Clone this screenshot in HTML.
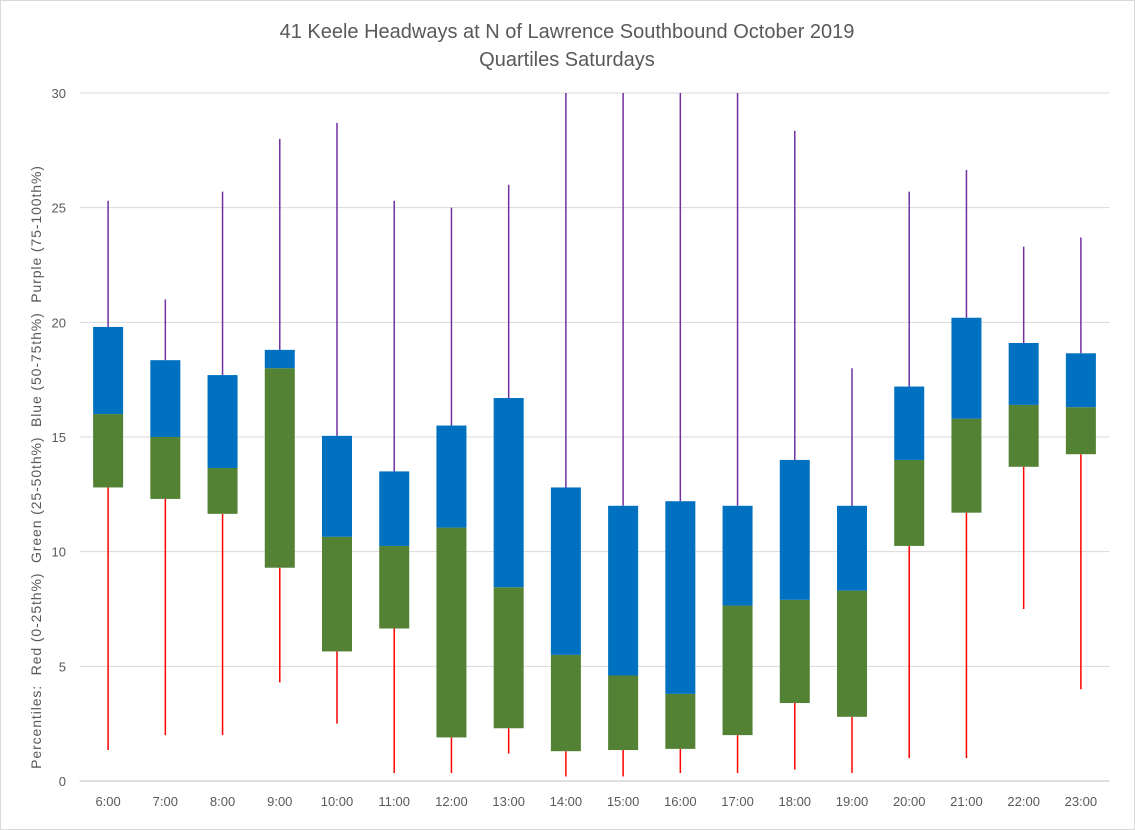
<!DOCTYPE html>
<html><head><meta charset="utf-8"><style>
body{margin:0;background:#fff;}
svg{display:block;font-family:"Liberation Sans",sans-serif;}
</style></head><body>
<svg id="chart" width="1135" height="830">
<rect x="0.5" y="0.5" width="1134" height="829" fill="#fff" stroke="#d9d9d9"/>
<text x="567" y="38" text-anchor="middle" font-size="20" fill="#595959">41 Keele Headways at N of Lawrence Southbound October 2019</text>
<text x="567" y="66" text-anchor="middle" font-size="20" fill="#595959">Quartiles Saturdays</text>
<text transform="translate(41,467) rotate(-90)" text-anchor="middle" font-size="14" letter-spacing="0.9" style="white-space:pre" fill="#595959">Percentiles:  Red (0-25th%)  Green (25-50th%)  Blue (50-75th%)  Purple (75-100th%)</text>
<g id="grid"></g><g id="marks"></g><g id="labels"></g>
</svg>
<script>
const categories=["6:00","7:00","8:00","9:00","10:00","11:00","12:00","13:00","14:00","15:00","16:00","17:00","18:00","19:00","20:00","21:00","22:00","23:00"];
const minVals=[1.35,2.0,2.0,4.3,2.5,0.35,0.35,1.2,0.2,0.2,0.35,0.35,0.5,0.35,1.0,1.0,7.5,4.0];
const q1Vals=[12.8,12.3,11.65,9.3,5.65,6.65,1.9,2.3,1.3,1.35,1.4,2.0,3.4,2.8,10.25,11.7,13.7,14.25];
const medVals=[16.0,15.0,13.65,18.0,10.65,10.25,11.05,8.45,5.5,4.6,3.8,7.65,7.9,8.3,14.0,15.8,16.4,16.3];
const q3Vals=[19.8,18.35,17.7,18.8,15.05,13.5,15.5,16.7,12.8,12.0,12.2,12.0,14.0,12.0,17.2,20.2,19.1,18.65];
const maxVals=[25.3,21.0,25.7,28.0,28.7,25.3,25.0,26.0,32,32,32,32,28.35,18.0,25.7,26.65,23.3,23.7];
const yTicks=[0,5,10,15,20,25,30];
const NS="http://www.w3.org/2000/svg";
const left=79.5,right=1109.5,y0=781,yTop=93,yMax=30;
const y=v=>y0-(Math.min(v,yMax))/yMax*(y0-yTop);
const bw=(right-left)/categories.length;
const x=i=>left+bw*(i+0.5);
function mk(tag,attrs,parent){const e=document.createElementNS(NS,tag);for(const k in attrs)e.setAttribute(k,attrs[k]);document.getElementById(parent).appendChild(e);return e;}
yTicks.forEach(t=>{
 const l=mk('line',{x1:left,x2:right,y1:y(t),y2:y(t),stroke:t===0?'#bfbfbf':'#d9d9d9','stroke-width':1},'grid');
 
 
 const tx=mk('text',{x:66,y:y(t)+5,'text-anchor':'end','font-size':13,fill:'#595959'},'labels');
 tx.textContent=t;
 
 
});
categories.forEach((c,i)=>{
 const cx=x(i);
 const lo=mk('line',{x1:cx,x2:cx,y1:y(minVals[i]),y2:y(q1Vals[i]),stroke:'#ff0000','stroke-width':1.5},'marks');
 
 
 const hi=mk('line',{x1:cx,x2:cx,y1:y(q3Vals[i]),y2:y(maxVals[i]),stroke:'#7030a0','stroke-width':1.5},'marks');
 
 
 const g=mk('rect',{x:cx-15,y:y(medVals[i]),width:30,height:y(q1Vals[i])-y(medVals[i]),fill:'#548235'},'marks');
 
 
 const b=mk('rect',{x:cx-15,y:y(q3Vals[i]),width:30,height:y(medVals[i])-y(q3Vals[i]),fill:'#0070c0'},'marks');
 
 
 const tx=mk('text',{x:cx,y:806,'text-anchor':'middle','font-size':13,fill:'#595959'},'labels');
 tx.textContent=c;
 
 
});
</script>
</body></html>
